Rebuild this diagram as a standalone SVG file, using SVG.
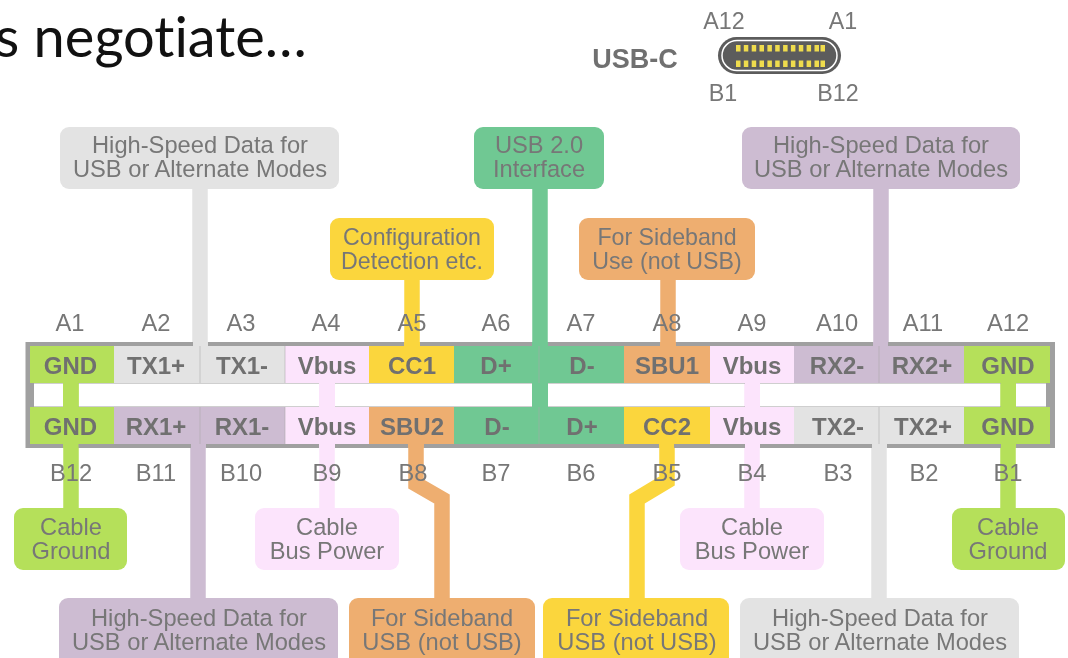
<svg xmlns="http://www.w3.org/2000/svg" width="1068" height="658" viewBox="0 0 1068 658">
<style>
text{font-family:"Liberation Sans",Arial,sans-serif;fill:#777;text-anchor:middle}
.l{font-size:23.7px}
.p{font-size:23.3px}
.c{font-size:24px;font-weight:bold;fill:#6f6f6f}
.w{stroke-width:15.5;fill:none;stroke-linejoin:miter}
.gnd{fill:#b5e05a}.hsg{fill:#e3e3e3}.hsp{fill:#cdbcd2}.vb{fill:#fce4fc}.cc{fill:#fbd63e}.usb{fill:#70c893}.sb{fill:#eeae70}
.sep{stroke:#a8a8a8;stroke-width:1}
</style>
<defs><filter id="soft" x="-2%" y="-2%" width="104%" height="104%"><feGaussianBlur stdDeviation="0.55"/></filter></defs>
<rect width="1068" height="658" fill="#fff"/>
<text id="title" x="-5" y="57" style="font-family:Lato,'Noto Sans',sans-serif;font-size:56px;font-variant-ligatures:none;fill:#111;text-anchor:start">s negotiate…</text>
<g filter="url(#soft)">
<g id="usb-c">
<text x="635" y="68" style="font-size:27px;font-weight:bold;fill:#707070">USB-C</text>
<text class="p" x="724" y="29">A12</text><text class="p" x="843" y="29">A1</text>
<text class="p" x="723" y="101">B1</text><text class="p" x="838" y="101">B12</text>
<rect x="718" y="37" width="123" height="37" rx="18.5" fill="#5c5c5c"/>
<rect x="722" y="40.500" width="115" height="30" rx="15" fill="none" stroke="#fff" stroke-width="1.500"/>
<g fill="#efdc4e"><path d="M736 45h4.500v6.500h-4.500zM743.800 45h4.500v6.500h-4.500zM751.700 45h4.500v6.500h-4.500zM759.500 45h4.500v6.500h-4.500zM767.400 45h4.500v6.500h-4.500zM775.200 45h4.500v6.500h-4.500zM783.100 45h4.500v6.500h-4.500zM790.900 45h4.500v6.500h-4.500zM798.800 45h4.500v6.500h-4.500zM806.600 45h4.500v6.500h-4.500zM814.500 45h4.500v6.500h-4.500zM820.500 45h4.500v6.500h-4.500z"/>
<path d="M736 60.500h4.500v6.500h-4.500zM743.800 60.500h4.500v6.500h-4.500zM751.700 60.500h4.500v6.500h-4.500zM759.500 60.500h4.500v6.500h-4.500zM767.400 60.500h4.500v6.500h-4.500zM775.200 60.500h4.500v6.500h-4.500zM783.100 60.500h4.500v6.500h-4.500zM790.900 60.500h4.500v6.500h-4.500zM798.800 60.500h4.500v6.500h-4.500zM806.600 60.500h4.500v6.500h-4.500zM814.500 60.500h4.500v6.500h-4.500zM820.500 60.500h4.500v6.500h-4.500z"/></g>
</g>
<g id="connectors">
<path class="w" stroke="#e3e3e3" d="M200 185V344"/>
<path class="w" stroke="#70c893" d="M540 185V410"/>
<path class="w" stroke="#cdbcd2" d="M881 185V344"/>
<path class="w" stroke="#fbd63e" d="M412 276V348"/>
<path class="w" stroke="#eeae70" d="M668 276V348"/>
<path class="w" stroke="#b5e05a" d="M71 382V410M71 444V512"/>
<path class="w" stroke="#fce4fc" d="M327 382V410M327 444V512"/>
<path class="w" stroke="#fce4fc" d="M752 382V410M752 444V512"/>
<path class="w" stroke="#b5e05a" d="M1008 382V410M1008 444V512"/>
<path class="w" stroke="#cdbcd2" d="M198 444V602"/>
<path class="w" stroke="#e3e3e3" d="M879 444V602"/>
<path class="w" stroke="#eeae70" d="M416 444V484L442 499V602"/>
<path class="w" stroke="#fbd63e" d="M667 444V481L637 499V602"/>
</g>
<g id="connector-frame">
<path fill="#a0a0a0" fill-rule="evenodd" d="M25.500 342H1055V448H25.500ZM34 383.500V406.500H1046V383.500Z"/>
<rect x="532" y="342" width="16" height="4" class="usb"/>
<rect x="193" y="342" width="15" height="4" class="hsg"/>
<rect x="873" y="342" width="15" height="4" class="hsp"/>
<rect x="404" y="342" width="16" height="4" class="cc"/>
<rect x="660" y="342" width="16" height="4" class="sb"/>
<rect x="191" y="444" width="15" height="4" class="hsp"/>
<rect x="872" y="444" width="15" height="4" class="hsg"/>
<rect x="63" y="444" width="15.500" height="4" class="gnd"/>
<rect x="319" y="444" width="16" height="4" class="vb"/>
<rect x="408" y="444" width="16" height="4" class="sb"/>
<rect x="659" y="444" width="15" height="4" class="cc"/>
<rect x="745" y="444" width="15" height="4" class="vb"/>
<rect x="1001" y="444" width="15" height="4" class="gnd"/>
<rect x="532" y="383" width="16" height="24" class="usb"/>
<rect x="63" y="383" width="15.500" height="24" class="gnd"/>
<rect x="319" y="383" width="16" height="24" class="vb"/>
<rect x="745" y="383" width="15" height="24" class="vb"/>
<rect x="1001" y="383" width="15" height="24" class="gnd"/>
</g>
<g id="pin-A1"><text class="l" x="70" y="331">A1</text><rect class="gnd" x="30" y="346" width="84" height="37"/><text class="c" x="70.500" y="374">GND</text></g>
<g id="pin-A2"><text class="l" x="156" y="331">A2</text><rect class="hsg" x="114" y="346" width="86" height="37"/><text class="c" x="156" y="374">TX1+</text></g>
<g id="pin-A3"><text class="l" x="241" y="331">A3</text><rect class="hsg" x="200" y="346" width="85" height="37"/><text class="c" x="242" y="374">TX1-</text></g>
<g id="pin-A4"><text class="l" x="326" y="331">A4</text><rect class="vb" x="285" y="346" width="84" height="37"/><text class="c" x="327" y="374">Vbus</text></g>
<g id="pin-A5"><text class="l" x="412" y="331">A5</text><rect class="cc" x="369" y="346" width="85" height="37"/><text class="c" x="412" y="374">CC1</text></g>
<g id="pin-A6"><text class="l" x="496" y="331">A6</text><rect class="usb" x="454" y="346" width="85" height="37"/><text class="c" x="496" y="374">D+</text></g>
<g id="pin-A7"><text class="l" x="581" y="331">A7</text><rect class="usb" x="539" y="346" width="85" height="37"/><text class="c" x="582" y="374">D-</text></g>
<g id="pin-A8"><text class="l" x="667" y="331">A8</text><rect class="sb" x="624" y="346" width="86" height="37"/><text class="c" x="667" y="374">SBU1</text></g>
<g id="pin-A9"><text class="l" x="752" y="331">A9</text><rect class="vb" x="710" y="346" width="84" height="37"/><text class="c" x="752" y="374">Vbus</text></g>
<g id="pin-A10"><text class="l" x="837" y="331">A10</text><rect class="hsp" x="794" y="346" width="85" height="37"/><text class="c" x="837" y="374">RX2-</text></g>
<g id="pin-A11"><text class="l" x="923" y="331">A11</text><rect class="hsp" x="879" y="346" width="85" height="37"/><text class="c" x="922" y="374">RX2+</text></g>
<g id="pin-A12"><text class="l" x="1008" y="331">A12</text><rect class="gnd" x="964" y="346" width="86" height="37"/><text class="c" x="1008" y="374">GND</text></g>
<g id="pin-B12"><text class="l" x="71" y="481">B12</text><rect class="gnd" x="30" y="407" width="84" height="37"/><text class="c" x="70.500" y="435">GND</text></g>
<g id="pin-B11"><text class="l" x="156" y="481">B11</text><rect class="hsp" x="114" y="407" width="86" height="37"/><text class="c" x="156" y="435">RX1+</text></g>
<g id="pin-B10"><text class="l" x="241" y="481">B10</text><rect class="hsp" x="200" y="407" width="85" height="37"/><text class="c" x="242" y="435">RX1-</text></g>
<g id="pin-B9"><text class="l" x="327" y="481">B9</text><rect class="vb" x="285" y="407" width="84" height="37"/><text class="c" x="327" y="435">Vbus</text></g>
<g id="pin-B8"><text class="l" x="413" y="481">B8</text><rect class="sb" x="369" y="407" width="85" height="37"/><text class="c" x="412" y="435">SBU2</text></g>
<g id="pin-B7"><text class="l" x="496" y="481">B7</text><rect class="usb" x="454" y="407" width="85" height="37"/><text class="c" x="497" y="435">D-</text></g>
<g id="pin-B6"><text class="l" x="581" y="481">B6</text><rect class="usb" x="539" y="407" width="85" height="37"/><text class="c" x="582" y="435">D+</text></g>
<g id="pin-B5"><text class="l" x="667" y="481">B5</text><rect class="cc" x="624" y="407" width="86" height="37"/><text class="c" x="667" y="435">CC2</text></g>
<g id="pin-B4"><text class="l" x="752" y="481">B4</text><rect class="vb" x="710" y="407" width="84" height="37"/><text class="c" x="752" y="435">Vbus</text></g>
<g id="pin-B3"><text class="l" x="838" y="481">B3</text><rect class="hsg" x="794" y="407" width="85" height="37"/><text class="c" x="838" y="435">TX2-</text></g>
<g id="pin-B2"><text class="l" x="924" y="481">B2</text><rect class="hsg" x="879" y="407" width="85" height="37"/><text class="c" x="923" y="435">TX2+</text></g>
<g id="pin-B1"><text class="l" x="1008" y="481">B1</text><rect class="gnd" x="964" y="407" width="86" height="37"/><text class="c" x="1008" y="435">GND</text></g>
<path class="sep" d="M200 346V383M200 407V444M285 346V383M285 407V444M539 346V383M539 407V444M879 346V383M879 407V444" opacity=".55"/>
<g id="box-hs-top-left"><rect class="hsg" x="60" y="127" width="279" height="62" rx="9"/><text class="l" x="200" y="153">High-Speed Data for</text><text class="l" x="200" y="177">USB or Alternate Modes</text></g>
<g id="box-usb2"><rect class="usb" x="474" y="127" width="130" height="62" rx="9"/><text class="l" x="539" y="153">USB 2.0</text><text class="l" x="539" y="177">Interface</text></g>
<g id="box-hs-top-right"><rect class="hsp" x="742" y="127" width="278" height="62" rx="9"/><text class="l" x="881" y="153">High-Speed Data for</text><text class="l" x="881" y="177">USB or Alternate Modes</text></g>
<g id="box-config"><rect class="cc" x="330" y="218" width="164" height="62" rx="9"/><text class="l" x="412" y="245" style="font-size:23.2px">Configuration</text><text class="l" x="412" y="269" style="font-size:23.2px">Detection etc.</text></g>
<g id="box-sideband-top"><rect class="sb" x="579" y="218" width="176" height="62" rx="9"/><text class="l" x="667" y="245" style="font-size:23.2px">For Sideband</text><text class="l" x="667" y="269" style="font-size:23.2px">Use (not USB)</text></g>
<g id="box-ground-left"><rect class="gnd" x="14" y="508" width="113" height="62" rx="9"/><text class="l" x="71" y="535">Cable</text><text class="l" x="71" y="559">Ground</text></g>
<g id="box-power-left"><rect class="vb" x="255" y="508" width="144" height="62" rx="9"/><text class="l" x="327" y="535">Cable</text><text class="l" x="327" y="559">Bus Power</text></g>
<g id="box-power-right"><rect class="vb" x="680" y="508" width="144" height="62" rx="9"/><text class="l" x="752" y="535">Cable</text><text class="l" x="752" y="559">Bus Power</text></g>
<g id="box-ground-right"><rect class="gnd" x="952" y="508" width="113" height="62" rx="9"/><text class="l" x="1008" y="535">Cable</text><text class="l" x="1008" y="559">Ground</text></g>
<g id="box-hs-bottom-left"><rect class="hsp" x="59" y="598" width="279" height="70" rx="9"/><text class="l" x="199" y="626">High-Speed Data for</text><text class="l" x="199" y="650">USB or Alternate Modes</text></g>
<g id="box-sideband-left"><rect class="sb" x="349" y="598" width="186" height="70" rx="9"/><text class="l" x="442" y="626">For Sideband</text><text class="l" x="442" y="650">USB (not USB)</text></g>
<g id="box-sideband-right"><rect class="cc" x="543" y="598" width="186" height="70" rx="9"/><text class="l" x="637" y="626">For Sideband</text><text class="l" x="637" y="650">USB (not USB)</text></g>
<g id="box-hs-bottom-right"><rect class="hsg" x="740" y="598" width="279" height="70" rx="9"/><text class="l" x="880" y="626">High-Speed Data for</text><text class="l" x="880" y="650">USB or Alternate Modes</text></g>
</g>
</svg>
